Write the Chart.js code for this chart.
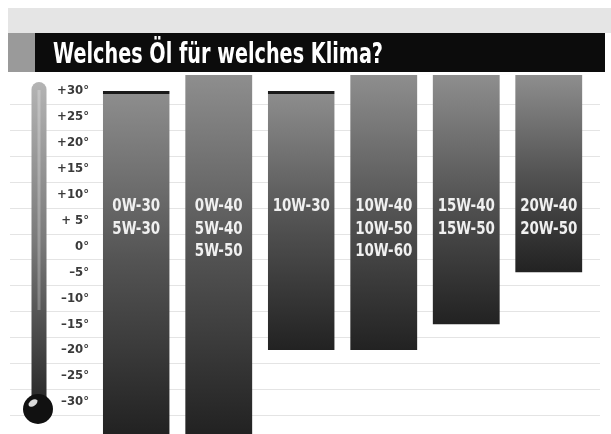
<!DOCTYPE html>
<html>
<head>
<meta charset="utf-8">
<script src="https://cdn.jsdelivr.net/npm/chart.js@4/dist/chart.umd.min.js"></script>
<style>
    html, body { margin: 0; padding: 0; background: #fff; }
    #wrap { width: 611px; height: 434px; position: relative; }
</style>
</head>
<body>
<div id="wrap"><canvas id="oilChart" width="611" height="434"></canvas></div>
<script>
const titleText = "Welches Öl für welches Klima?";
const oilGrades = [
    ["0W-30", "5W-30"],
    ["0W-40", "5W-40", "5W-50"],
    ["10W-30"],
    ["10W-40", "10W-50", "10W-60"],
    ["15W-40", "15W-50"],
    ["20W-40", "20W-50"]
];
const lowTemps = [-40, -40, -20, -20, -15, -5];
const highTemps = [30, 40, 30, 40, 40, 40];
const tickValues = [30, 25, 20, 15, 10, 5, 0, -5, -10, -15, -20, -25, -30];
const tickLabels = ["+30°", "+25°", "+20°", "+15°", "+10°", "+ 5°", "0°", "–5°", "–10°", "–15°", "–20°", "–25°", "–30°"];

const condensed = "'Liberation Sans Narrow', 'DejaVu Sans Condensed', sans-serif";

// paper, title bar and thermometer
const decorPlugin = {
    id: "decor",
    beforeDraw(chart) {
        const ctx = chart.ctx;
        const y = chart.scales.y;
        ctx.save();
        ctx.fillStyle = "#fff";
        ctx.fillRect(0, 0, chart.width, chart.height);

        // faint paper lines
        ctx.strokeStyle = "#e4e4e4";
        ctx.lineWidth = 1;
        for (let v = -32.5; v < 30; v += 5) {
            const py = Math.round(y.getPixelForValue(v)) + 0.5;
            ctx.beginPath();
            ctx.moveTo(10, py);
            ctx.lineTo(600, py);
            ctx.stroke();
        }

        // title band
        ctx.fillStyle = "#e5e5e5";
        ctx.fillRect(8, 8, 603, 25);
        ctx.fillStyle = "#9a9a9a";
        ctx.fillRect(8, 33, 27, 39);
        ctx.fillStyle = "#0c0c0c";
        ctx.fillRect(35, 33, 570, 39);
        ctx.fillStyle = "#fff";
        ctx.font = "bold 28px " + condensed;
        ctx.textBaseline = "alphabetic";
        const w = ctx.measureText(titleText).width;
        ctx.save();
        ctx.translate(53, 63);
        ctx.scale(330 / w, 1);
        ctx.fillText(titleText, 0, 0);
        ctx.restore();

        // thermometer
        const tTop = 82, tBot = 400, cx = 39;
        const g = ctx.createLinearGradient(0, tTop, 0, tBot);
        g.addColorStop(0, "#b4b4b4");
        g.addColorStop(0.5, "#7a7a7a");
        g.addColorStop(1, "#2a2a2a");
        ctx.fillStyle = g;
        ctx.beginPath();
        ctx.moveTo(cx - 7.5, tBot);
        ctx.lineTo(cx - 7.5, tTop + 7.5);
        ctx.arc(cx, tTop + 7.5, 7.5, Math.PI, 0);
        ctx.lineTo(cx + 7.5, tBot);
        ctx.closePath();
        ctx.fill();
        ctx.fillStyle = "rgba(255,255,255,0.25)";
        ctx.fillRect(cx - 1.5, tTop + 8, 3, 220);
        ctx.fillStyle = "#111";
        ctx.beginPath();
        ctx.arc(38, 409, 15, 0, Math.PI * 2);
        ctx.fill();
        ctx.fillStyle = "rgba(255,255,255,0.85)";
        ctx.beginPath();
        ctx.ellipse(33, 403, 5, 3, -0.6, 0, Math.PI * 2);
        ctx.fill();
        ctx.restore();
    },
    afterDatasetsDraw(chart) {
        const ctx = chart.ctx;
        const meta = chart.getDatasetMeta(0);
        ctx.save();
        ctx.fillStyle = "#f0f0f0";
        ctx.font = "bold 17px " + condensed;
        ctx.textAlign = "center";
        ctx.textBaseline = "middle";
        meta.data.forEach((bar, i) => {
            oilGrades[i].forEach((line, j) => {
                ctx.save();
                ctx.translate(bar.x, 207 + j * 22.5);
                ctx.scale(0.88, 1);
                ctx.fillText(line, 0, 0);
                ctx.restore();
            });
        });
        ctx.restore();
    }
};

function barGradient(context) {
    const chart = context.chart;
    const area = chart.chartArea;
    if (!area || !context.raw) return "#555";
    const y = chart.scales.y;
    const top = Math.max(area.top, y.getPixelForValue(context.raw[1]));
    const bot = Math.min(area.bottom, y.getPixelForValue(context.raw[0]));
    const g = chart.ctx.createLinearGradient(0, top, 0, bot);
    g.addColorStop(0, "#8e8e8e");
    g.addColorStop(0.5, "#535353");
    g.addColorStop(1, "#222222");
    return g;
}

const chart = new Chart(document.getElementById("oilChart"), {
    type: "bar",
    data: {
        labels: oilGrades.map(l => l.join(" / ")),
        datasets: [{
            data: lowTemps.map((lo, i) => [lo, highTemps[i]]),
            backgroundColor: barGradient,
            borderColor: "#1a1a1a",
            borderWidth: ctx => (ctx.raw && ctx.raw[1] <= 30 ? { top: 3, left: 0, right: 0, bottom: 0 } : 0),
            borderSkipped: false,
            barPercentage: 0.9,
            categoryPercentage: 0.9
        }]
    },
    options: {
        responsive: false,
        animation: false,
        layout: { padding: { top: 75, right: 21, bottom: 0, left: 0 } },
        plugins: { legend: { display: false }, tooltip: { enabled: false } },
        scales: {
            x: { display: false },
            y: {
                min: -36.2,
                max: 33.1,
                grid: { display: false, drawTicks: false },
                border: { display: false },
                afterBuildTicks: axis => { axis.ticks = tickValues.map(v => ({ value: v })); },
                afterFit: axis => { axis.width = 95; axis.paddingTop = 0; axis.paddingBottom = 0; },
                ticks: {
                    padding: 6,
                    color: "#3a3a3a",
                    font: { family: condensed, size: 13, weight: "bold" },
                    callback: (v, i) => tickLabels[i]
                }
            }
        }
    },
    plugins: [decorPlugin]
});
</script>
</body>
</html>
